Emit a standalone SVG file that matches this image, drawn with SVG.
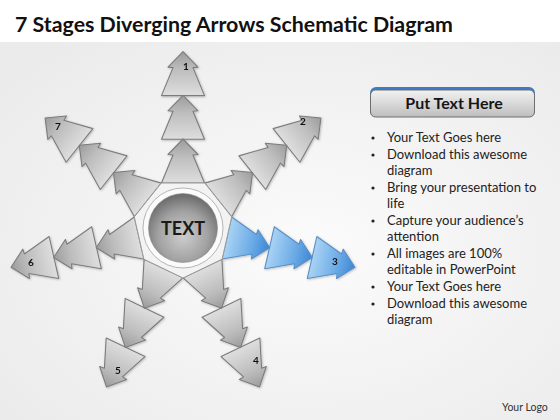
<svg xmlns="http://www.w3.org/2000/svg" xmlns:xlink="http://www.w3.org/1999/xlink" width="560" height="420" viewBox="0 0 560 420">
<style>
.title{font-family:Lato,"Liberation Sans",sans-serif;font-weight:bold;font-size:21px;fill:#111}
.num{font-family:Lato,"Liberation Sans",sans-serif;font-weight:bold;font-size:10px;fill:#111;text-anchor:middle}
.ctr{font-family:Lato,"Liberation Sans",sans-serif;font-weight:bold;font-size:18px;fill:#1a1a1a;text-anchor:middle}
.hdr{font-family:Lato,"Liberation Sans",sans-serif;font-weight:bold;font-size:16px;fill:#151515;text-anchor:middle}
.bl{font-family:Lato,"Liberation Sans",sans-serif;font-size:13px;fill:#222}
.logo{font-family:Lato,"Liberation Sans",sans-serif;font-size:10.5px;fill:#333}
.ga{fill:url(#gray);stroke:#7c7c7c;stroke-width:1.1;stroke-linejoin:round}
.ba{fill:url(#blue);stroke:#5b8fc4;stroke-width:1.1;stroke-linejoin:round}
</style>
<defs>
<linearGradient id="gray" x1="0" y1="0" x2="1" y2="0">
<stop offset="0" stop-color="#dedede"/>
<stop offset="0.6" stop-color="#bdbdbd"/>
<stop offset="1" stop-color="#9c9c9c"/>
</linearGradient>
<linearGradient id="blue" x1="0" y1="0" x2="1" y2="0">
<stop offset="0" stop-color="#a9d3f4"/>
<stop offset="0.6" stop-color="#6aaae6"/>
<stop offset="1" stop-color="#3b86d4"/>
</linearGradient>
<radialGradient id="bg" cx="0.55" cy="0.55" r="0.7">
<stop offset="0" stop-color="#fbfbfb"/>
<stop offset="1" stop-color="#ebebeb"/>
</radialGradient>
<radialGradient id="ball" cx="0.5" cy="0.62" r="0.6">
<stop offset="0" stop-color="#cdcdcd"/>
<stop offset="0.6" stop-color="#a2a2a2"/>
<stop offset="1" stop-color="#6c6c6c"/>
</radialGradient>
<linearGradient id="btn" x1="0" y1="0" x2="0" y2="1">
<stop offset="0" stop-color="#f2f2f2"/>
<stop offset="0.5" stop-color="#d9d9d9"/>
<stop offset="1" stop-color="#bdbdbd"/>
</linearGradient>
<filter id="sh" x="-20%" y="-20%" width="140%" height="140%">
<feDropShadow dx="0.8" dy="0.8" stdDeviation="0.9" flood-color="#000" flood-opacity="0.25"/>
</filter>
<path id="arw" d="M0,-21.5 L28,-10 L28.5,-15 L44,0 L28.5,15 L28,10 L0,21.5 Z"/>
</defs>

<rect x="0" y="0" width="560" height="420" fill="#ffffff"/>
<rect x="0" y="42" width="560" height="378" fill="url(#bg)"/>

<g id="title"><text class="title" x="15" y="32" textLength="438" lengthAdjust="spacingAndGlyphs">7 Stages Diverging Arrows Schematic Diagram</text></g>

<g id="arm1" filter="url(#sh)">
<g transform="translate(183 228) rotate(-90)"><use href="#arw" class="ga" x="132.4"/><use href="#arw" class="ga" x="88.7"/><use href="#arw" class="ga" x="45"/></g>
<text class="num" x="186" y="70">1</text>
</g>
<g id="arm2" filter="url(#sh)">
<g transform="translate(183 228) rotate(-38.571)"><use href="#arw" class="ga" x="132.4"/><use href="#arw" class="ga" x="88.7"/><use href="#arw" class="ga" x="45"/></g>
<text class="num" x="303" y="125">2</text>
</g>
<g id="arm3" filter="url(#sh)">
<g transform="translate(183 228) rotate(12.857)"><use href="#arw" class="ba" x="132.4"/><use href="#arw" class="ba" x="88.7"/><use href="#arw" class="ba" x="45"/></g>
<text class="num" x="335" y="265">3</text>
</g>
<g id="arm4" filter="url(#sh)">
<g transform="translate(183 228) rotate(64.286)"><use href="#arw" class="ga" x="132.4"/><use href="#arw" class="ga" x="88.7"/><use href="#arw" class="ga" x="45"/></g>
<text class="num" x="256" y="364">4</text>
</g>
<g id="arm5" filter="url(#sh)">
<g transform="translate(183 228) rotate(115.714)"><use href="#arw" class="ga" x="132.4"/><use href="#arw" class="ga" x="88.7"/><use href="#arw" class="ga" x="45"/></g>
<text class="num" x="118" y="374">5</text>
</g>
<g id="arm6" filter="url(#sh)">
<g transform="translate(183 228) rotate(167.143)"><use href="#arw" class="ga" x="132.4"/><use href="#arw" class="ga" x="88.7"/><use href="#arw" class="ga" x="45"/></g>
<text class="num" x="31" y="266">6</text>
</g>
<g id="arm7" filter="url(#sh)">
<g transform="translate(183 228) rotate(218.571)"><use href="#arw" class="ga" x="132.4"/><use href="#arw" class="ga" x="88.7"/><use href="#arw" class="ga" x="45"/></g>
<text class="num" x="58" y="130">7</text>
</g>

<g id="center">
<polygon points="204.7,183 231.7,216.9 222.1,259.2 183,278 143.9,259.2 134.3,216.9 161.3,183" fill="#f3f3f3" stroke="#9a9a9a" stroke-width="1"/>
<circle cx="183" cy="228" r="40" fill="#fbfbfb" stroke="#a5a5a5" stroke-width="0.8"/>
<circle cx="183" cy="228" r="34.5" fill="url(#ball)" stroke="#8a8a8a" stroke-width="0.6"/>
<text class="ctr" x="183" y="235">TEXT</text>
</g>

<g id="header">
<rect x="370" y="87" width="165" height="30" rx="6" fill="#3d7cc2"/>
<rect x="370.5" y="90" width="164" height="27" rx="5" fill="url(#btn)" stroke="#6e6e6e" stroke-width="1"/>
<text class="hdr" x="454" y="109">Put Text Here</text>
</g>

<g id="bullets">
<g fill="#222">
<circle cx="373" cy="138" r="1.6"/>
<circle cx="373" cy="155" r="1.6"/>
<circle cx="373" cy="188" r="1.6"/>
<circle cx="373" cy="221" r="1.6"/>
<circle cx="373" cy="254" r="1.6"/>
<circle cx="373" cy="287" r="1.6"/>
<circle cx="373" cy="304" r="1.6"/>
</g>
<text class="bl" x="387" y="142">Your Text Goes here</text>
<text class="bl" x="387" y="159">Download this awesome</text>
<text class="bl" x="387" y="175">diagram</text>
<text class="bl" x="387" y="192">Bring your presentation to</text>
<text class="bl" x="387" y="208">life</text>
<text class="bl" x="387" y="225">Capture your audience’s</text>
<text class="bl" x="387" y="241">attention</text>
<text class="bl" x="387" y="258">All images are 100%</text>
<text class="bl" x="387" y="274">editable in PowerPoint</text>
<text class="bl" x="387" y="291">Your Text Goes here</text>
<text class="bl" x="387" y="308">Download this awesome</text>
<text class="bl" x="387" y="324">diagram</text>
</g>

<g id="logo"><text class="logo" x="502" y="411">Your Logo</text></g>
</svg>
